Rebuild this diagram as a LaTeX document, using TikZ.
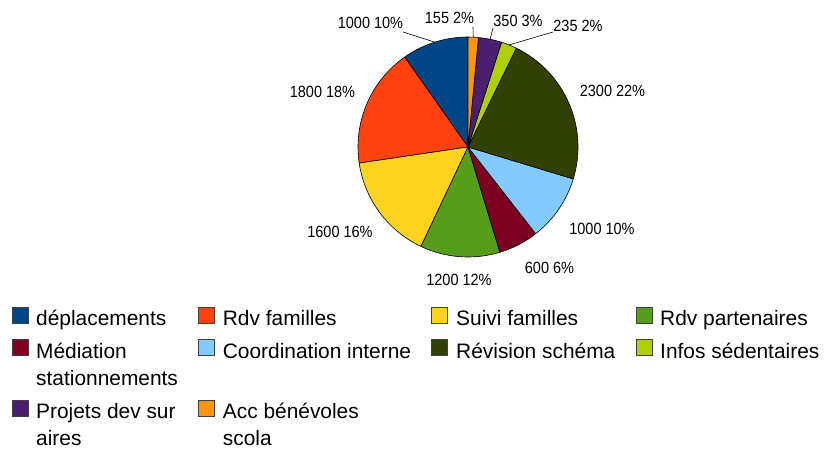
\documentclass[tikz,border=0pt]{standalone}
\usepackage{fontspec}
\usetikzlibrary{calc}
\setmainfont{Liberation Sans}
\definecolor{cA}{HTML}{004586}
\definecolor{cB}{HTML}{FF420E}
\definecolor{cC}{HTML}{FFD320}
\definecolor{cD}{HTML}{579D1C}
\definecolor{cE}{HTML}{7E0021}
\definecolor{cF}{HTML}{83CAFF}
\definecolor{cG}{HTML}{314004}
\definecolor{cH}{HTML}{AECF00}
\definecolor{cI}{HTML}{4B1F6F}
\definecolor{cJ}{HTML}{FF950E}
\newcommand{\plab}[1]{\scalebox{1}[1.12]{#1}}
\begin{document}
\begin{tikzpicture}[x=1pt,y=1pt,
  slice/.style={draw=black,line width=0.6pt,line join=round},
  plabel/.style={inner sep=0pt,font=\fontsize{14.5}{17}\selectfont},
  leader/.style={draw=black,line width=0.6pt},
  sq/.style={draw=black!75,line width=0.8pt,minimum size=16pt,inner sep=0pt},
  ltext/.style={anchor=base west,inner sep=0pt,font=\fontsize{20.9}{26.7}\selectfont}]
\useasboundingbox (0,0) rectangle (829,450);
\coordinate (C) at (468,303);
\def\R{110}
% slices
\filldraw[slice,fill=cA] (C) -- ++(90:\R) arc[start angle=90,end angle=125.156,radius=\R] -- cycle;
\filldraw[slice,fill=cB] (C) -- ++(125.156:\R) arc[start angle=125.156,end angle=188.438,radius=\R] -- cycle;
\filldraw[slice,fill=cC] (C) -- ++(188.438:\R) arc[start angle=188.438,end angle=244.688,radius=\R] -- cycle;
\filldraw[slice,fill=cD] (C) -- ++(244.688:\R) arc[start angle=244.688,end angle=286.875,radius=\R] -- cycle;
\filldraw[slice,fill=cE] (C) -- ++(286.875:\R) arc[start angle=286.875,end angle=307.969,radius=\R] -- cycle;
\filldraw[slice,fill=cF] (C) -- ++(307.969:\R) arc[start angle=307.969,end angle=343.125,radius=\R] -- cycle;
\filldraw[slice,fill=cG] (C) -- ++(343.125:\R) arc[start angle=343.125,end angle=423.984,radius=\R] -- cycle;
\filldraw[slice,fill=cH] (C) -- ++(423.984:\R) arc[start angle=423.984,end angle=432.246,radius=\R] -- cycle;
\filldraw[slice,fill=cI] (C) -- ++(432.246:\R) arc[start angle=432.246,end angle=444.551,radius=\R] -- cycle;
\filldraw[slice,fill=cJ] (C) -- ++(444.551:\R) arc[start angle=444.551,end angle=450,radius=\R] -- cycle;
% labels
\node[plabel] (lA) at (370.5,427) {\plab{1000 10\%}};
\node[plabel] (lJ) at (449.5,432.5) {\plab{155 2\%}};
\node[plabel] (lI) at (518,429) {\plab{350 3\%}};
\node[plabel] (lH) at (578,424) {\plab{235 2\%}};
\node[plabel] (lB) at (322.5,358.3) {\plab{1800 18\%}};
\node[plabel] (lG) at (612.5,359.3) {\plab{2300 22\%}};
\node[plabel] (lF) at (602,220.7) {\plab{1000 10\%}};
\node[plabel] (lE) at (549.5,182.3) {\plab{600 6\%}};
\node[plabel] (lD) at (459,170) {\plab{1200 12\%}};
\node[plabel] (lC) at (340,218.3) {\plab{1600 16\%}};
% leader lines
\coordinate (eA) at ($(C)+(107.58:\R)$);
\coordinate (eJ) at ($(C)+(87.27:\R)$);
\coordinate (eI) at ($(C)+(78.40:\R)$);
\coordinate (eH) at ($(C)+(68.12:\R)$);
\coordinate (tA) at (403,418);
\coordinate (tJ) at (473,423);
\coordinate (tI) at (493,422);
\coordinate (tH) at (553,418);
\draw[leader] (eA) -- (tA);
\draw[leader] (eJ) -- (tJ);
\draw[leader] (eI) -- (tI);
\draw[leader] (eH) -- (tH);
% legend
\node[sq,fill=cA] (sA) at (20.5,135) {};
\node[sq,fill=cB] (sB) at (206.7,135) {};
\node[sq,fill=cC] (sC) at (439.5,135) {};
\node[sq,fill=cD] (sD) at (644,135) {};
\node[sq,fill=cE] (sE) at (20.5,103) {};
\node[sq,fill=cF] (sF) at (206.7,103) {};
\node[sq,fill=cG] (sG) at (439.5,103) {};
\node[sq,fill=cH] (sH) at (644,103) {};
\node[sq,fill=cI] (sI) at (20.5,42) {};
\node[sq,fill=cJ] (sJ) at (206.7,42) {};
\node[ltext] (tA1) at (36,124.3) {déplacements};
\node[ltext] (tB1) at (222.7,124.3) {Rdv familles};
\node[ltext] (tC1) at (456,124.3) {Suivi familles};
\node[ltext] (tD1) at (660,124.3) {Rdv partenaires};
\node[ltext] (tE1) at (36,91.7) {Médiation};
\node[ltext] (tE2) at (36,65) {stationnements};
\node[ltext] (tF1) at (222.7,91.7) {Coordination interne};
\node[ltext] (tG1) at (456,91.7) {Révision schéma};
\node[ltext] (tH1) at (660,91.7) {Infos sédentaires};
\node[ltext] (tI1) at (36,31.7) {Projets dev sur};
\node[ltext] (tI2) at (36,5) {aires};
\node[ltext] (tJ1) at (222.7,31.7) {Acc bénévoles};
\node[ltext] (tJ2) at (222.7,5) {scola};
\end{tikzpicture}
\end{document}
